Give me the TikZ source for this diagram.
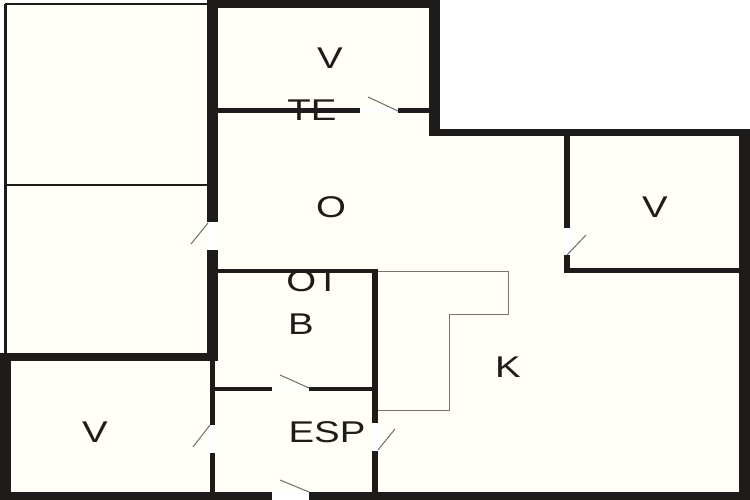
\documentclass[tikz,border=0pt]{standalone}
\usepackage{fontspec}
\setmainfont{Liberation Sans}
\definecolor{wallc}{HTML}{1E1C1B}
\definecolor{floorc}{HTML}{FFFFF8}
\definecolor{leafc}{HTML}{6E6E6A}
\definecolor{linec}{HTML}{77776F}
\tikzset{
  wall/.style={fill=wallc,draw=none},
  leaf/.style={draw=leafc,line width=1pt},
  thinline/.style={draw=linec,line width=1pt},
  thinblack/.style={draw=wallc,line width=1.3pt},
  roomlabel/.style={inner sep=0pt,text=wallc,font=\fontsize{30}{30}\selectfont,xscale=1.28},
  gapc/.style={fill=white,draw=none}
}
\begin{document}
\begin{tikzpicture}[x=1pt,y=-1pt]
\useasboundingbox (0,0) rectangle (750,500);
\fill[white] (0,0) rectangle (750,500);
% floor
\fill[floorc] (5,4) -- (212,4) -- (212,2) -- (435,2) -- (435,131) -- (745,131) -- (745,500) -- (0,500) -- (0,353) -- (5,353) -- cycle;
% thin outer lines of the left rooms
\draw[thinblack] (5,4) -- (208,4);
\fill[wallc] (4,4) rectangle (7,354);
\draw[thinblack] (6,185) -- (208,185);
% stair outline
\draw[thinline] (378,271) -- (508,271) -- (508,314) -- (449,314) -- (449,410) -- (378,410);
% heavy walls
\fill[wall] (207,0) rectangle (440,8);
\fill[wall] (207,0) rectangle (218,222);
\fill[wall] (207,250) rectangle (218,361);
\fill[wall] (429,0) rectangle (440,136);
\fill[wall] (429,129) rectangle (750,136);
\fill[wall] (739,129) rectangle (750,500);
\fill[wall] (0,353) rectangle (218,361);
\fill[wall] (0,353) rectangle (11,500);
\fill[wall] (0,492) rectangle (272,500);
\fill[wall] (309,492) rectangle (750,500);
% partitions
\fill[wall] (218,108) rectangle (360,113);
\fill[wall] (398,108) rectangle (429,113);
\fill[wall] (564,136) rectangle (570,228);
\fill[wall] (564,255) rectangle (570,273);
\fill[wall] (564,268) rectangle (739,273);
\fill[wall] (218,269) rectangle (378,273);
\fill[wall] (372,269) rectangle (378,423);
\fill[wall] (372,451) rectangle (378,492);
\fill[wall] (210,361) rectangle (215,425);
\fill[wall] (210,453) rectangle (215,492);
\fill[wall] (215,387) rectangle (272,391);
\fill[wall] (309,387) rectangle (372,391);
% door openings
\fill[gapc] (360,108) rectangle (398,113);
\fill[gapc] (207,222) rectangle (218,250);
\fill[gapc] (564,228) rectangle (570,255);
\fill[gapc] (210,425) rectangle (215,453);
\fill[gapc] (372,423) rectangle (378,451);
\fill[gapc] (272,387) rectangle (309,391);
\fill[gapc] (272,492) rectangle (309,500);
% door leaves
\draw[leaf] (398,111) -- (368,97);
\draw[leaf] (208,223) -- (191,244);
\draw[leaf] (567,255) -- (586,235);
\draw[leaf] (210,425) -- (193,447);
\draw[leaf] (378,450) -- (395,429);
\draw[leaf] (309,388) -- (280,375);
\draw[leaf] (309,492) -- (280,480);
% labels
\node[roomlabel] (v1) at (330,58) {V};
\node[roomlabel] (te) at (312,110) {TE};
\node[roomlabel] (o) at (331,207) {O};
\node[roomlabel] (v2) at (655,207) {V};
\node[roomlabel] (ot) at (313,281.5) {OT};
\node[roomlabel] (b) at (301,324) {B};
\node[roomlabel] (k) at (508,367) {K};
\node[roomlabel] (esp) at (327,432) {ESP};
\node[roomlabel] (v3) at (95,432) {V};
\end{tikzpicture}
\end{document}
